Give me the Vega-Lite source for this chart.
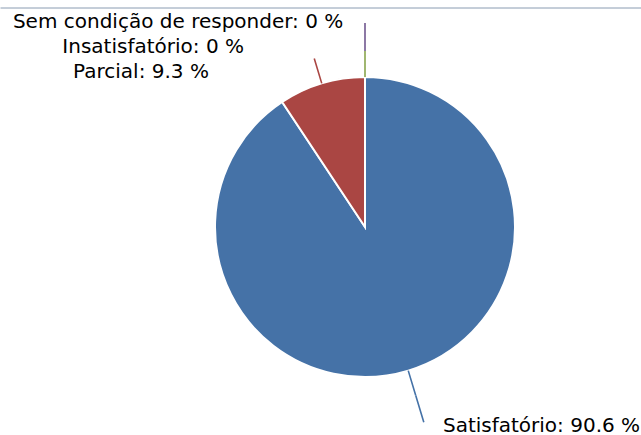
{
  "$schema": "https://vega.github.io/schema/vega-lite/v6.json",
  "width": 730,
  "height": 439,
  "autosize": "none",
  "padding": {"top": 7.5, "left": 0, "right": 0, "bottom": 0},
  "background": "white",
  "view": {"stroke": "#8A9CB2", "strokeWidth": 1, "strokeDash": [730, 4000], "fill": null},
  "datasets": {
    "shares": [
      {"k": 1, "cat": "Satisfatório", "v": 90.6, "label": "Satisfatório: 90.6 %"},
      {"k": 2, "cat": "Parcial", "v": 9.3, "label": "Parcial: 9.3 %"},
      {"k": 3, "cat": "Insatisfatório", "v": 0, "label": "Insatisfatório: 0 %"},
      {"k": 4, "cat": "Sem condição de responder", "v": 0, "label": "Sem condição de responder: 0 %"}
    ],
    "leaders": [
      {"k": 1, "cat": "Satisfatório", "v": 45.3, "lead": false},
      {"k": 2, "cat": "Satisfatório", "v": 0, "lead": true},
      {"k": 3, "cat": "Satisfatório", "v": 45.3, "lead": false},
      {"k": 4, "cat": "Parcial", "v": 4.65, "lead": false},
      {"k": 5, "cat": "Parcial", "v": 0, "lead": true},
      {"k": 6, "cat": "Parcial", "v": 4.65, "lead": false},
      {"k": 7, "cat": "Insatisfatório", "v": 0, "lead": true},
      {"k": 8, "cat": "Sem condição de responder", "v": 0, "lead": true}
    ]
  },
  "layer": [
    {
      "data": {"name": "shares"},
      "mark": {"type": "arc", "radius": 150, "stroke": "white", "strokeWidth": 2},
      "encoding": {
        "theta": {"field": "v", "type": "quantitative", "stack": true},
        "order": {"field": "k", "type": "quantitative"},
        "color": {
          "field": "cat", "type": "nominal", "legend": null,
          "scale": {
            "domain": ["Satisfatório", "Parcial", "Insatisfatório", "Sem condição de responder"],
            "range": ["#4572A7", "#AA4643", "#89A54E", "#71588F"]
          }
        }
      }
    },
    {
      "data": {"name": "leaders"},
      "mark": {"type": "arc", "radius": 150, "radius2": 176, "fill": null, "strokeWidth": 1.6},
      "encoding": {
        "theta": {"field": "v", "type": "quantitative", "stack": true},
        "order": {"field": "k", "type": "quantitative"},
        "stroke": {
          "field": "cat", "type": "nominal", "legend": null,
          "scale": {
            "domain": ["Satisfatório", "Parcial", "Insatisfatório", "Sem condição de responder"],
            "range": ["#4572A7", "#AA4643", "#89A54E", "#71588F"]
          }
        },
        "strokeOpacity": {
          "condition": {"test": "datum.lead && datum.cat !== 'Sem condição de responder'", "value": 1},
          "value": 0
        }
      }
    },
    {
      "data": {"name": "leaders"},
      "mark": {"type": "arc", "radius": 176, "radius2": 204, "fill": null, "strokeWidth": 1.6},
      "encoding": {
        "theta": {"field": "v", "type": "quantitative", "stack": true},
        "order": {"field": "k", "type": "quantitative"},
        "stroke": {
          "field": "cat", "type": "nominal", "legend": null,
          "scale": {
            "domain": ["Satisfatório", "Parcial", "Insatisfatório", "Sem condição de responder"],
            "range": ["#4572A7", "#AA4643", "#89A54E", "#71588F"]
          }
        },
        "strokeOpacity": {
          "condition": {"test": "datum.lead && (datum.cat === 'Satisfatório' || datum.cat === 'Sem condição de responder')", "value": 1},
          "value": 0
        }
      }
    },
    {
      "data": {"name": "shares"},
      "mark": {"type": "text", "radius": 150, "align": "left", "baseline": "alphabetic", "dx": 34.7, "dy": 60.9, "font": "DejaVu Sans", "fontSize": 20, "color": "#000000"},
      "encoding": {
        "theta": {"field": "v", "type": "quantitative", "stack": true},
        "order": {"field": "k", "type": "quantitative"},
        "text": {"condition": {"test": "datum.cat === 'Satisfatório'", "field": "label"}, "value": ""}
      }
    },
    {
      "data": {"name": "shares"},
      "mark": {"type": "text", "radius": 150, "align": "right", "baseline": "alphabetic", "dx": -112.8, "dy": -4.9, "font": "DejaVu Sans", "fontSize": 20, "color": "#000000"},
      "encoding": {
        "theta": {"field": "v", "type": "quantitative", "stack": true},
        "order": {"field": "k", "type": "quantitative"},
        "text": {"condition": {"test": "datum.cat === 'Parcial'", "field": "label"}, "value": ""}
      }
    },
    {
      "data": {"name": "shares"},
      "mark": {"type": "text", "radius": 150, "align": "right", "baseline": "alphabetic", "dx": -121, "dy": -23.7, "font": "DejaVu Sans", "fontSize": 20, "color": "#000000"},
      "encoding": {
        "theta": {"field": "v", "type": "quantitative", "stack": true},
        "order": {"field": "k", "type": "quantitative"},
        "text": {"condition": {"test": "datum.cat === 'Insatisfatório'", "field": "label"}, "value": ""}
      }
    },
    {
      "data": {"name": "shares"},
      "mark": {"type": "text", "radius": 150, "align": "right", "baseline": "alphabetic", "dx": -21.7, "dy": -48.7, "font": "DejaVu Sans", "fontSize": 20, "color": "#000000"},
      "encoding": {
        "theta": {"field": "v", "type": "quantitative", "stack": true},
        "order": {"field": "k", "type": "quantitative"},
        "text": {"condition": {"test": "datum.cat === 'Sem condição de responder'", "field": "label"}, "value": ""}
      }
    }
  ]
}
